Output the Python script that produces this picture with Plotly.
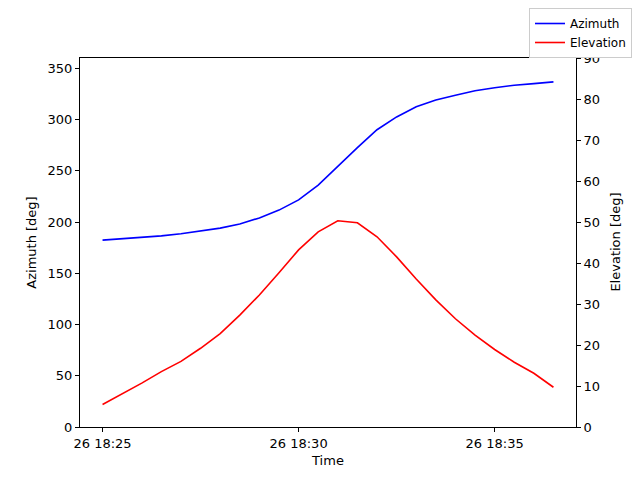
import pandas as pd
import plotly.graph_objects as go

# samples every 30 s
times = pd.date_range("2023-01-26 18:25:00", periods=24, freq="30s")
azimuth = [182.3, 183.5, 185.0, 186.5, 188.5, 191.0, 194.0, 198.0, 204.0, 211.6,
           221.6, 236.0, 254.5, 272.5, 290.0, 302.5, 312.5, 319.0, 323.7, 328.0,
           331.0, 333.4, 335.0, 336.7]
elevation = [5.5, 8.0, 10.7, 13.5, 16.0, 19.2, 22.8, 27.3, 32.2, 37.6,
             43.2, 47.6, 50.3, 49.8, 46.4, 41.5, 36.1, 31.0, 26.4, 22.4,
             18.9, 15.8, 13.1, 9.7]

x_ticks = ["2023-01-26 18:25:00", "2023-01-26 18:30:00", "2023-01-26 18:35:00"]
x_tick_text = ["26 18:25", "26 18:30", "26 18:35"]
az_ticks = [0, 50, 100, 150, 200, 250, 300, 350]
el_ticks = [0, 10, 20, 30, 40, 50, 60, 70, 80, 90]

axis_style = dict(showline=True, linecolor="black", linewidth=1, ticks="outside",
                  ticklen=4, tickcolor="black", showgrid=False, zeroline=False,
                  automargin=False, tickfont=dict(size=13))

fig = go.Figure()
fig.add_trace(go.Scatter(x=times, y=azimuth, name="Azimuth", mode="lines",
                         line=dict(color="blue", width=1.6)))
fig.add_trace(go.Scatter(x=times, y=elevation, name="Elevation", mode="lines",
                         line=dict(color="red", width=1.6), yaxis="y2"))

# page body has an 8px margin, so the figure is 16px smaller than the window
fig.update_layout(
    width=624, height=464,
    margin=dict(l=72, r=56, t=50, b=45, autoexpand=False),
    plot_bgcolor="white", paper_bgcolor="white",
    font=dict(family="DejaVu Sans", size=13, color="black"),
    xaxis=dict(title=dict(text="Time", standoff=6, font=dict(size=13)),
               range=["2023-01-26 18:24:25.5", "2023-01-26 18:37:04.5"],
               tickvals=x_ticks, ticktext=x_tick_text, mirror=True, **axis_style),
    yaxis=dict(title=dict(text="Azimuth [deg]", standoff=8, font=dict(size=13)),
               range=[0, 360], tickvals=az_ticks, **axis_style),
    yaxis2=dict(range=[0, 90], tickvals=el_ticks, overlaying="y", side="right",
                **axis_style),
    legend=dict(xref="container", yref="container", x=1.0, y=1.0,
                xanchor="right", yanchor="top",
                bordercolor="#cccccc", borderwidth=1, bgcolor="white",
                font=dict(size=12), tracegroupgap=0),
    showlegend=True,
)

# right axis title (plotly misplaces it with automargin off)
fig.add_annotation(text="Elevation [deg]", xref="paper", yref="paper",
                   x=1.098, y=0.5, textangle=-90, showarrow=False,
                   font=dict(size=13))

fig.write_html("out.html")
